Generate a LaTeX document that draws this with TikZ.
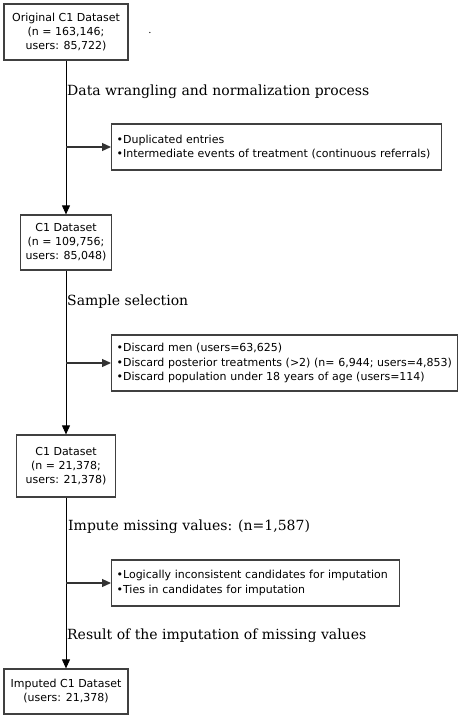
\documentclass[tikz,border=0pt]{standalone}
\usepackage{fontspec}
\setmainfont{DejaVu Serif}
\setsansfont{DejaVu Sans}
\usetikzlibrary{arrows.meta,positioning}

\begin{document}
\begin{tikzpicture}[x=1pt,y=-1pt,
	box/.style={draw=black!75,line width=1.2pt,fill=white,align=center,inner sep=0pt,
		font=\sffamily\fontsize{11}{14}\selectfont},
	list/.style={draw=black!75,line width=1.2pt,fill=white,align=left,anchor=west,
		inner xsep=5pt,inner ysep=0pt,font=\sffamily\fontsize{11}{14.5}\selectfont},
	stage/.style={anchor=west,inner sep=1pt,font=\fontsize{14}{16}\selectfont},
	flow/.style={-{Triangle[length=9pt,width=8pt]},line width=0.8pt},
	side/.style={-{Triangle[length=9pt,width=8pt]},line width=1.2pt,draw=black!80}]
	\useasboundingbox (0,0) rectangle (464,720);
	\def\tx{66}	%x of the main line

	%DATASETS
	\node[box,minimum width=124pt,minimum height=56pt] (orig) at (\tx,32) {Original C1 Dataset\\(n = 163,146;\\users: 85,722)};
	\node[box,minimum width=91pt,minimum height=55pt] (clean) at (\tx,242.5) {C1 Dataset\\(n = 109,756;\\users: 85,048)};
	\node[box,minimum width=99pt,minimum height=62pt] (sample) at (\tx,466) {C1 Dataset\\(n = 21,378;\\users: 21,378)};
	\node[box,minimum width=124pt,minimum height=45pt] (imputed) at (\tx,691.5) {Imputed C1 Dataset\\(users: 21,378)};
	\node (dot) at (150,33) {.};

	%STAGES
	\node[stage] (wrangle) at (\tx,92) {Data wrangling and normalization process};
	\node[stage] (select) at (\tx,302) {Sample selection};
	\node[stage] (impute) at (\tx+1,527) {Impute missing values: (n=1,587)};
	\node[stage] (result) at (\tx,636) {Result of the imputation of missing values};

	%EXCLUSIONS
	\node[list,text width=320pt,minimum height=46pt] (ex1) at (111,147) {•Duplicated entries\\•Intermediate events of treatment (continuous referrals)};
	\node[list,text width=336pt,minimum height=56pt] (ex2) at (111,363) {•Discard men (users=63,625)\\•Discard posterior treatments (>2) (n= 6,944; users=4,853)\\•Discard population under 18 years of age (users=114)};
	\node[list,text width=278pt,minimum height=46pt] (ex3) at (111,583) {•Logically inconsistent candidates for imputation\\•Ties in candidates for imputation};

	%MAIN LINE
	\draw[flow] (orig) -- (clean);
	\draw[flow] (clean) -- (sample);
	\draw[flow] (sample) -- (imputed);

	%SIDE ARROWS
	\foreach \e/\y in {ex1/147,ex2/363,ex3/583}{
		\coordinate (\e-from) at (\tx,\y);
		\draw[side] (\e-from) -- (\e.west);
	}
\end{tikzpicture}
\end{document}
